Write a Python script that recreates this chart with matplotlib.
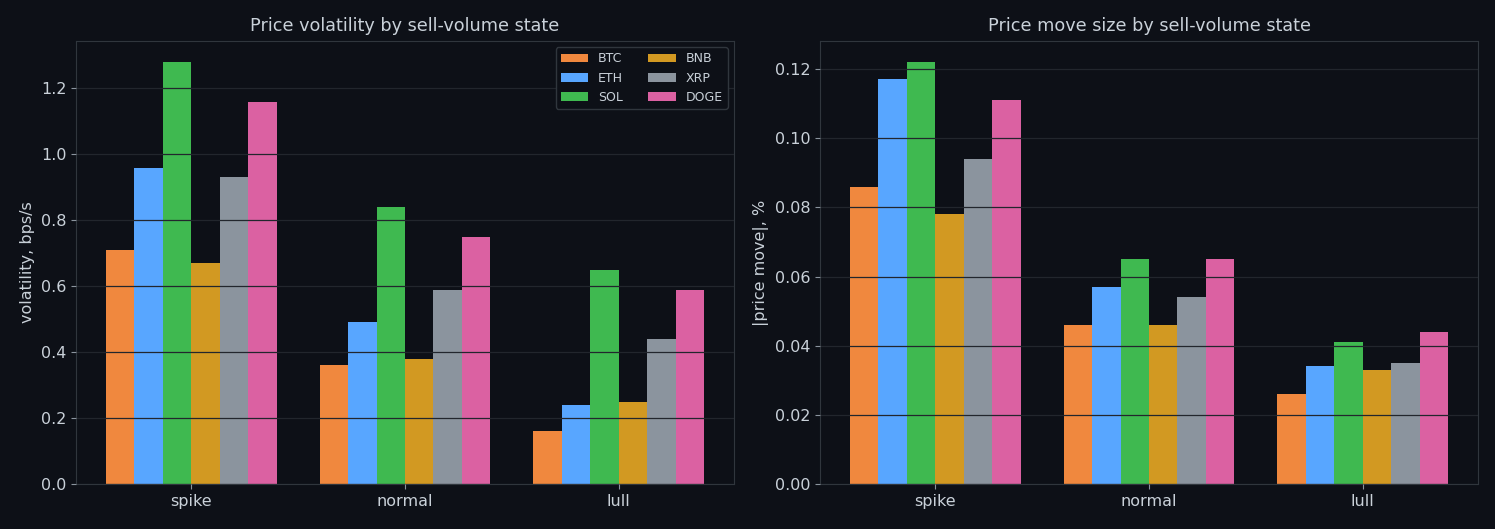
import matplotlib.pyplot as plt
import numpy as np

# sell-volume states and coins
states = ['spike', 'normal', 'lull']
coins = ['BTC', 'ETH', 'SOL', 'BNB', 'XRP', 'DOGE']
colors = ['#f0883e', '#58a6ff', '#3fb950', '#d29922', '#8b949e', '#db61a2']

# volatility, bps/s  (rows = coins, cols = states)
vol_btc = [0.71, 0.36, 0.16]
vol_eth = [0.96, 0.49, 0.24]
vol_sol = [1.28, 0.84, 0.65]
vol_bnb = [0.67, 0.38, 0.25]
vol_xrp = [0.93, 0.59, 0.44]
vol_doge = [1.16, 0.75, 0.59]

# |price move|, %
mv_btc = [0.086, 0.046, 0.026]
mv_eth = [0.117, 0.057, 0.034]
mv_sol = [0.122, 0.065, 0.041]
mv_bnb = [0.078, 0.046, 0.033]
mv_xrp = [0.094, 0.054, 0.035]
mv_doge = [0.111, 0.065, 0.044]

vol = [vol_btc, vol_eth, vol_sol, vol_bnb, vol_xrp, vol_doge]
moves = [mv_btc, mv_eth, mv_sol, mv_bnb, mv_xrp, mv_doge]

bg = '#0d1017'
txt = '#c9d1d9'
edge = '#30363d'

fig = plt.figure(figsize=(14.95, 5.29), dpi=100, facecolor=bg)
ax1 = fig.add_axes([76/1495, 45/529, 658/1495, 443/529])
ax2 = fig.add_axes([820/1495, 45/529, 658/1495, 443/529])

x = np.arange(len(states))
w = 0.8 / len(coins)


def draw(ax, data, title, ylabel, legend=False):
    ax.set_facecolor(bg)
    for i, (c, vals) in enumerate(zip(coins, data)):
        ax.bar(x - 0.4 + w/2 + i*w, vals, w, color=colors[i], label=c, zorder=1)
    ax.set_xticks(x)
    ax.set_xticklabels(states)
    ax.set_title(title, color=txt, fontsize=12.7, pad=7)
    ax.set_ylabel(ylabel, color=txt, fontsize=11.5)
    ax.tick_params(colors=txt, labelsize=11.5)
    ax.tick_params(axis='both', color='#8b949e')
    for s in ax.spines.values():
        s.set_color(edge)
    ax.set_axisbelow(False)
    ax.yaxis.grid(True, color='#22262d', linewidth=0.9, zorder=3)
    if legend:
        ax.legend(ncol=2, loc='upper right', fontsize=9, facecolor=bg,
                  edgecolor=edge, labelcolor=txt, framealpha=1,
                  handlelength=2.2, columnspacing=2.0)


draw(ax1, vol, 'Price volatility by sell-volume state', 'volatility, bps/s', legend=True)
draw(ax2, moves, 'Price move size by sell-volume state', '|price move|, %')

fig.savefig('out.png', dpi=100, facecolor=bg)
